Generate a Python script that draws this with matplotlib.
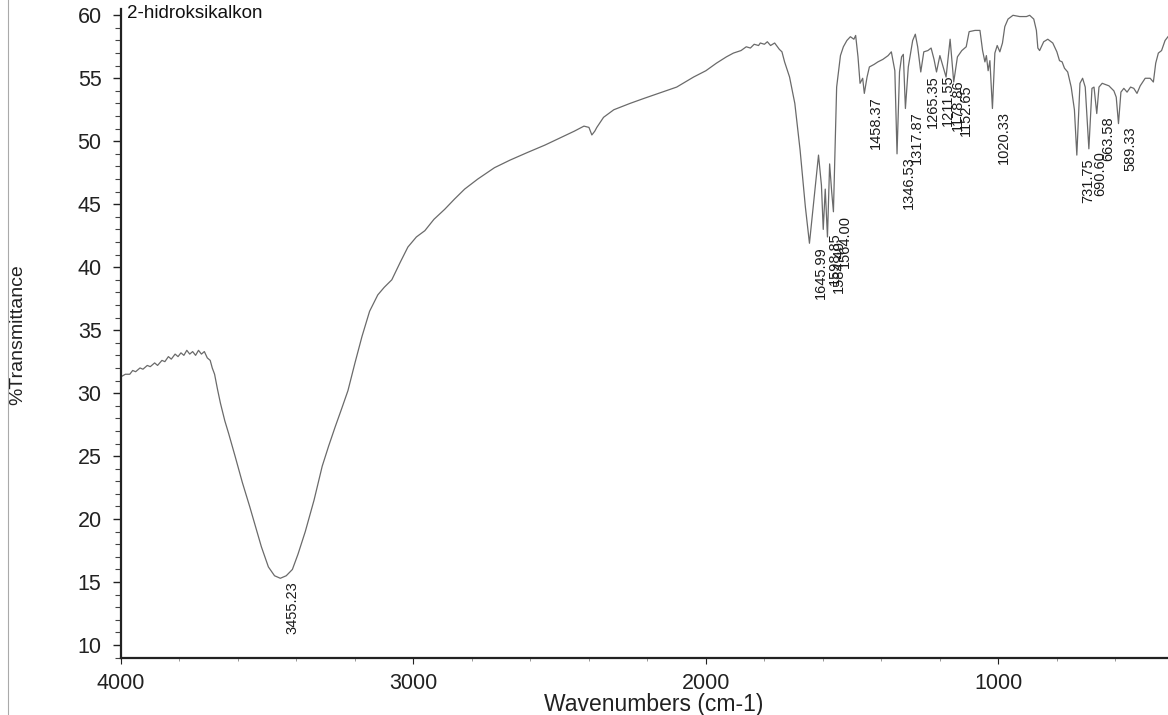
import matplotlib
matplotlib.use('Agg')
import matplotlib.pyplot as plt
from matplotlib.ticker import MultipleLocator
from matplotlib.lines import Line2D

plt.rcParams['font.family'] = ['Liberation Sans', 'DejaVu Sans']

# FTIR spectrum, 2-hidroksikalkon (wavenumber in cm-1, %T)
wavenumber = [
    4000, 3985, 3970, 3960, 3950, 3935, 3925, 3910, 3900, 3885, 3875, 3860,
    3850, 3838, 3828, 3815, 3805, 3795, 3785, 3775, 3765, 3755, 3745, 3735,
    3725, 3715, 3705, 3695, 3688, 3680, 3670, 3660, 3645, 3632, 3610, 3585,
    3560, 3540, 3520, 3496, 3475, 3455.23, 3435, 3414, 3395, 3370, 3340, 3312,
    3290, 3268, 3245, 3224, 3200, 3176, 3150, 3122, 3100, 3074, 3045, 3019,
    2990, 2961, 2930, 2893, 2860, 2825, 2780, 2723, 2670, 2611, 2550, 2495,
    2450, 2417, 2400, 2390, 2380, 2373, 2350, 2315, 2260, 2212, 2150, 2100,
    2042, 2000, 1964, 1930, 1906, 1880, 1862, 1848, 1835, 1820, 1814, 1800,
    1790, 1779, 1765, 1749, 1740, 1731, 1714, 1696, 1678, 1660, 1645.99, 1631,
    1615, 1605, 1598.85, 1592, 1584.40, 1577, 1570, 1564.00, 1553, 1540, 1530,
    1518, 1506, 1494, 1488, 1480, 1473, 1464, 1458.37, 1449, 1441, 1425, 1412,
    1395, 1377, 1366, 1354, 1346.53, 1338, 1331, 1325, 1317.87, 1308, 1293,
    1284, 1276, 1265.35, 1255, 1241, 1230, 1220, 1211.55, 1200, 1190, 1178.86,
    1165, 1152.65, 1140, 1125, 1110, 1100, 1080, 1063, 1054, 1046, 1041, 1035,
    1029, 1020.33, 1012, 1004, 995, 986, 978, 967, 950, 927, 904, 893, 879,
    870, 865, 859, 845, 831, 814, 800, 791, 782, 774, 763, 751, 740, 731.75,
    721, 712, 703, 690.60, 680, 673, 663.58, 656, 645, 622, 605, 597, 589.33,
    581, 571, 560, 548, 537, 526, 515, 498, 481, 470, 462, 453, 442, 430, 420,
]
transmittance = [
    31.3, 31.5, 31.5, 31.8, 31.7, 32.0, 31.9, 32.2, 32.1, 32.4, 32.2, 32.6,
    32.5, 32.9, 32.7, 33.1, 32.9, 33.2, 33.0, 33.4, 33.1, 33.3, 33.0, 33.4,
    33.1, 33.3, 32.8, 32.6, 32.0, 31.5, 30.3, 29.2, 27.8, 26.8, 25.0, 22.9,
    21.0, 19.4, 17.8, 16.2, 15.5, 15.3, 15.5, 16.0, 17.2, 19.0, 21.5, 24.2,
    25.8, 27.3, 28.8, 30.2, 32.4, 34.5, 36.5, 37.8, 38.4, 39.0, 40.4, 41.6,
    42.4, 42.9, 43.8, 44.6, 45.4, 46.2, 47.0, 47.9, 48.5, 49.1, 49.7, 50.3,
    50.8, 51.2, 51.1, 50.5, 50.8, 51.1, 51.9, 52.5, 53.0, 53.4, 53.9, 54.3,
    55.1, 55.6, 56.2, 56.7, 57.0, 57.2, 57.5, 57.4, 57.7, 57.6, 57.8, 57.7,
    57.9, 57.6, 57.8, 57.3, 57.1, 56.3, 55.1, 53.0, 49.3, 44.8, 41.9, 45.3,
    48.9, 46.5, 43.0, 46.2, 42.4, 48.2, 46.0, 44.4, 54.3, 56.8, 57.5,
    58.0, 58.3, 58.1, 58.4, 56.7, 54.6, 55.0, 53.8, 55.1, 55.9, 56.1, 56.3,
    56.5, 56.8, 57.1, 55.6, 49.0, 55.5, 56.7, 56.9, 52.6, 55.9, 58.0,
    58.5, 57.5, 55.5, 57.1, 57.2, 57.4, 56.5, 55.5, 56.8, 56.0, 55.1,
    58.1, 54.7, 56.7, 57.2, 57.5, 58.7, 58.8, 58.8, 57.2, 56.3, 56.8, 55.6,
    56.4, 52.6, 57.0, 57.6, 57.1, 57.8, 59.1, 59.7, 60.0, 59.9, 59.9, 60.0, 59.7,
    58.8, 57.4, 57.2, 57.9, 58.1, 57.8, 57.1, 56.4, 56.3, 55.8, 55.5, 54.3, 52.5, 48.9,
    54.6, 55.0, 54.3, 49.4, 54.2, 54.3, 52.2, 54.3, 54.6, 54.4, 54.0, 53.5, 51.4,
    53.9, 54.2, 53.9, 54.3, 54.2, 53.8, 54.4, 55.0, 55.0, 54.7, 56.2, 57.0, 57.2, 58.0, 58.3,
]

# labelled band minima
peak_labels = ['3455.23', '1645.99', '1598.85', '1584.40', '1564.00', '1458.37',
               '1346.53', '1317.87', '1265.35', '1211.55', '1178.86', '1152.65',
               '1020.33', '731.75', '690.60', '663.58', '589.33']
peak_wn = [3455.23, 1645.99, 1598.85, 1584.40, 1564.00, 1458.37,
           1346.53, 1317.87, 1265.35, 1211.55, 1178.86, 1152.65,
           1020.33, 731.75, 690.60, 663.58, 589.33]
peak_t = [15.3, 41.9, 43.0, 42.4, 44.4, 53.8,
          49.0, 52.6, 55.5, 55.5, 55.1, 54.7,
          52.6, 48.9, 49.4, 52.2, 51.4]

W, H = 1168, 715
fig = plt.figure(figsize=(W / 100, H / 100), dpi=100)
ax = fig.add_axes([121 / W, 57 / H, 1 - 121 / W, 649 / H])

ax.plot(wavenumber, transmittance, color='#6a6a6a', lw=0.9)

ax.set_xlim(4000, 420)
ax.set_ylim(8.97, 60.5)
ax.xaxis.set_major_locator(MultipleLocator(1000))
ax.xaxis.set_minor_locator(MultipleLocator(200))
ax.yaxis.set_major_locator(MultipleLocator(5))
ax.yaxis.set_minor_locator(MultipleLocator(1))

for side in ['top', 'right']:
    ax.spines[side].set_visible(False)
for side in ['left', 'bottom']:
    ax.spines[side].set_linewidth(1.6)
    ax.spines[side].set_color('#222222')

ax.tick_params(axis='y', which='major', length=6, width=1, labelsize=15.5,
               pad=8, colors='#222222')
ax.tick_params(axis='y', which='minor', length=4, width=0.8, colors='#444444')
ax.tick_params(axis='x', which='major', length=4, width=0.8, labelsize=15.5,
               pad=7, colors='#222222')
ax.tick_params(axis='x', which='minor', length=2, width=0.6, colors='#888888')

for lbl, wn, t in zip(peak_labels, peak_wn, peak_t):
    ax.annotate(lbl, (wn, t), xytext=(3.5, -2), textcoords='offset points',
                rotation=90, ha='left', va='top', fontsize=10.5,
                color='#1a1a1a')

fig.text(127 / W, 1 - 14 / H, '2-hidroksikalkon', fontsize=13.5,
         ha='left', va='center', color='#111111')
fig.text(18 / W, 1 - 335 / H, '%Transmittance', rotation=90,
         ha='center', va='center', fontsize=14, color='#222222')
fig.text(654 / W, 10 / H, 'Wavenumbers (cm-1)', ha='center', va='center',
         fontsize=16.5, color='#222222')

# page edge on the left
fig.add_artist(Line2D([8 / W, 8 / W], [0, 1], transform=fig.transFigure,
                      color='#aaaaaa', lw=0.8))

fig.savefig('out.png', dpi=100)
